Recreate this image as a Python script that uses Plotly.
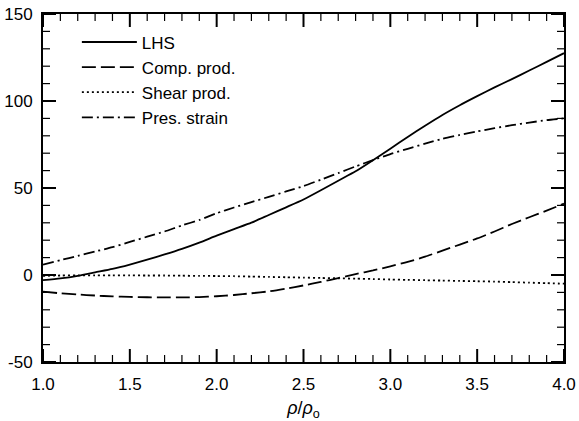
import plotly.graph_objects as go

x_vals = [1.0, 1.1, 1.2, 1.3, 1.4, 1.5, 1.6, 1.7, 1.8, 1.9, 2.0,
          2.1, 2.2, 2.3, 2.4, 2.5, 2.6, 2.7, 2.8, 2.9, 3.0,
          3.1, 3.2, 3.3, 3.4, 3.5, 3.6, 3.7, 3.8, 3.9, 4.0]

lhs = [-3.0, -2.0, -0.5, 1.5, 3.5, 6.0, 8.8, 11.8, 15.0, 18.6, 22.6,
       26.4, 30.1, 34.5, 38.9, 43.4, 48.7, 54.2, 59.6, 66.0, 72.6,
       79.3, 85.8, 92.0, 97.6, 102.8, 107.8, 112.6, 117.5, 122.5, 127.5]

comp_prod = [-9.6, -10.5, -11.2, -11.8, -12.3, -12.6, -12.8, -12.9, -12.9, -12.7, -12.2,
             -11.5, -10.5, -9.4, -7.8, -6.0, -4.0, -1.8, 0.5, 2.6, 5.0,
             7.5, 10.5, 14.0, 17.5, 21.0, 25.0, 29.3, 33.2, 37.0, 41.0]

shear_prod = [-0.5, -0.3, -0.2, -0.2, -0.2, -0.2, -0.3, -0.3, -0.4, -0.5, -0.6,
              -0.7, -0.9, -1.1, -1.3, -1.5, -1.7, -1.9, -2.1, -2.3, -2.6,
              -2.8, -3.0, -3.2, -3.4, -3.6, -3.8, -4.1, -4.4, -4.7, -5.0]

pres_strain = [6.0, 8.5, 11.0, 13.5, 16.0, 19.0, 22.0, 25.0, 28.5, 31.6, 35.5,
               38.8, 41.9, 44.9, 48.0, 51.1, 54.8, 58.6, 62.4, 66.0, 69.5,
               72.5, 75.5, 78.3, 80.5, 82.5, 84.4, 86.1, 87.6, 89.0, 90.0]

x_major = [1.0, 1.5, 2.0, 2.5, 3.0, 3.5, 4.0]
x_labels = ["1.0", "1.5", "2.0", "2.5", "3.0", "3.5", "4.0"]
y_major = [-50, 0, 50, 100, 150]
y_labels = ["-50", "0", "50", "100", "150"]

series = [
    ("LHS", lhs, "solid"),
    ("Comp. prod.", comp_prod, "14px,5px"),
    ("Shear prod.", shear_prod, "2px,3px"),
    ("Pres. strain", pres_strain, "11px,4px,2px,4px"),
]

FONT = "Liberation Sans, Arial, sans-serif"

fig = go.Figure()
for i, (name, ys, dash) in enumerate(series):
    fig.add_trace(go.Scatter(
        x=x_vals, y=ys, mode="lines", name=name,
        line=dict(color="black", width=1.8, dash=dash, shape="spline", smoothing=0.6),
    ))

fig.update_xaxes(
    range=[1, 4], showline=True, linecolor="black", linewidth=2, mirror=True,
    ticks="", showgrid=False, zeroline=False, automargin=False,
    tickvals=x_major, ticktext=x_labels, ticklabelstandoff=6,
    tickfont=dict(family=FONT, size=17, color="black"),
    title=dict(text="<i>ρ</i>/<i>ρ</i><sub>o</sub>",
               font=dict(family=FONT, size=18, color="black"), standoff=10),
)
fig.update_yaxes(
    range=[-50, 150], showline=True, linecolor="black", linewidth=2, mirror=True,
    ticks="", showgrid=False, zeroline=False, automargin=False,
    tickvals=y_major, ticktext=y_labels, ticklabelstandoff=5,
    tickfont=dict(family=FONT, size=17, color="black"),
)

# Inward tick marks on all four sides (major and minor), placed on the axis scales
x_minor = [1.0 + k * 0.1 for k in range(31)]
y_minor = [-50 + k * 10 for k in range(21)]
tick_shapes = []
for xv in x_minor:
    major = any(abs(xv - m) < 1e-9 for m in x_major)
    ln = 13 if major else 7
    w = 2 if major else 1.2
    for anchor, sign in ((0, 1), (1, -1)):
        tick_shapes.append(dict(
            type="line", xref="x", yref="paper", ysizemode="pixel", yanchor=anchor,
            x0=xv, x1=xv, y0=0, y1=sign * ln, line=dict(color="black", width=w),
        ))
for yv in y_minor:
    major = yv in y_major
    ln = 13 if major else 7
    w = 2 if major else 1.2
    for anchor, sign in ((0, 1), (1, -1)):
        tick_shapes.append(dict(
            type="line", yref="y", xref="paper", xsizemode="pixel", xanchor=anchor,
            y0=yv, y1=yv, x0=0, x1=sign * ln, line=dict(color="black", width=w),
        ))

fig.update_layout(
    width=579, height=421,
    margin=dict(l=43, r=15, t=14, b=59, autoexpand=False),
    plot_bgcolor="white", paper_bgcolor="white",
    shapes=tick_shapes,
    legend=dict(
        x=0.065, y=0.97, xanchor="left", yanchor="top",
        bgcolor="rgba(0,0,0,0)", borderwidth=0,
        font=dict(family=FONT, size=17, color="black"),
        tracegroupgap=0, itemwidth=55,
    ),
)

fig.write_html("out.html")
